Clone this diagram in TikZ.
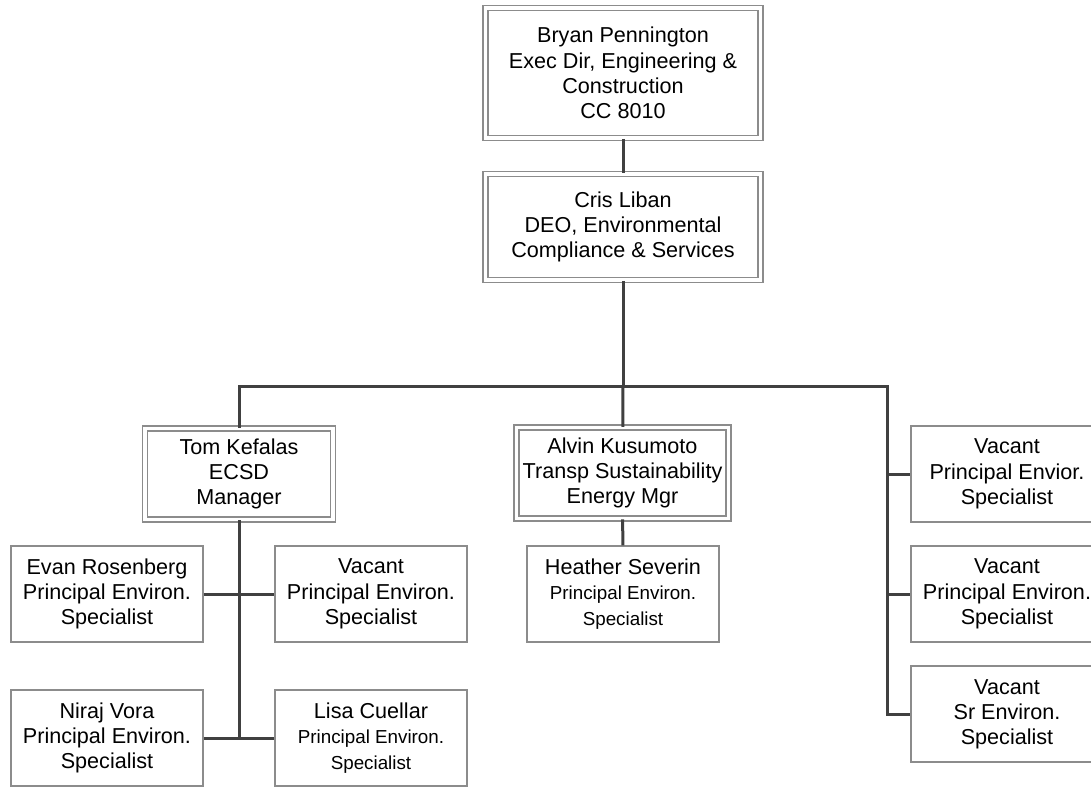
\documentclass[tikz,border=0pt]{standalone}
\usepackage{fontspec}
\setmainfont{Liberation Sans}
\usetikzlibrary{positioning,calc}

\newcommand{\smalltxt}[1]{{\fontsize{9.4}{11}\selectfont #1}}

\begin{document}
\begin{tikzpicture}[x=0.5pt, y=-0.5pt,
    every node/.style={font=\fontsize{10.8}{12.6}\selectfont, align=center, inner sep=0pt},
    boss/.style={draw=gray!90, double=white, double distance=1.75pt, line width=0.75pt},
    staff/.style={draw=gray!90, line width=0.75pt, minimum width=96pt, minimum height=48pt},
    link/.style={draw=black!75, line width=1.5pt}]
\useasboundingbox (0,0) rectangle (1091,787);

% top of the chart
\node[boss, minimum width=137.5pt, minimum height=65pt] (exec) at (623,73)
    {Bryan Pennington\\Exec Dir, Engineering \&\\Construction\\CC 8010};
\node[boss, minimum width=137.5pt, minimum height=53pt] (deo) at (623,227)
    {Cris Liban\\DEO, Environmental\\Compliance \& Services};

% managers
\node[boss, minimum width=94pt, minimum height=45.5pt] (tom) at (239,474)
    {Tom Kefalas\\ECSD\\Manager};
\node[boss, minimum width=106pt, minimum height=45.5pt] (alvin) at (622.5,473)
    {Alvin Kusumoto\\Transp Sustainability\\Energy Mgr};

% staff under Tom
\node[staff] (evan) at (107,594) {Evan Rosenberg\\Principal Environ.\\Specialist};
\node[staff] (vacl) at (371,594) {Vacant\\Principal Environ.\\Specialist};
\node[staff] (niraj) at (107,738) {Niraj Vora\\Principal Environ.\\Specialist};
\node[staff] (lisa) at (371,738)
    {Lisa Cuellar\\\smalltxt{Principal Environ.}\\\smalltxt{Specialist}};

% staff under Alvin
\node[staff] (heather) at (623,594)
    {Heather Severin\\\smalltxt{Principal Environ.}\\\smalltxt{Specialist}};

% vacant positions on the right
\node[staff] (vacr1) at (1007,474) {Vacant\\Principal Envior.\\Specialist};
\node[staff] (vacr2) at (1007,594) {Vacant\\Principal Environ.\\Specialist};
\node[staff] (vacr3) at (1007,714) {Vacant\\Sr Environ.\\Specialist};

% connectors
\coordinate (hub) at (623,386);
\coordinate (spine) at (887,386);
\draw[link] (exec) -- (deo);
\draw[link] (deo) -- (hub);
\draw[link] (tom.north) |- (spine) |- (vacr3.west);
\draw[link] (hub) -- (alvin);
\draw[link] (alvin) -- (heather);
\draw[link] (spine |- vacr1.west) -- (vacr1.west);
\draw[link] (spine |- vacr2.west) -- (vacr2.west);
\draw[link] (tom.south) -- (tom.south |- niraj.east);
\draw[link] (evan.east) -- (vacl.west);
\draw[link] (niraj.east) -- (lisa.west);
\end{tikzpicture}
\end{document}
